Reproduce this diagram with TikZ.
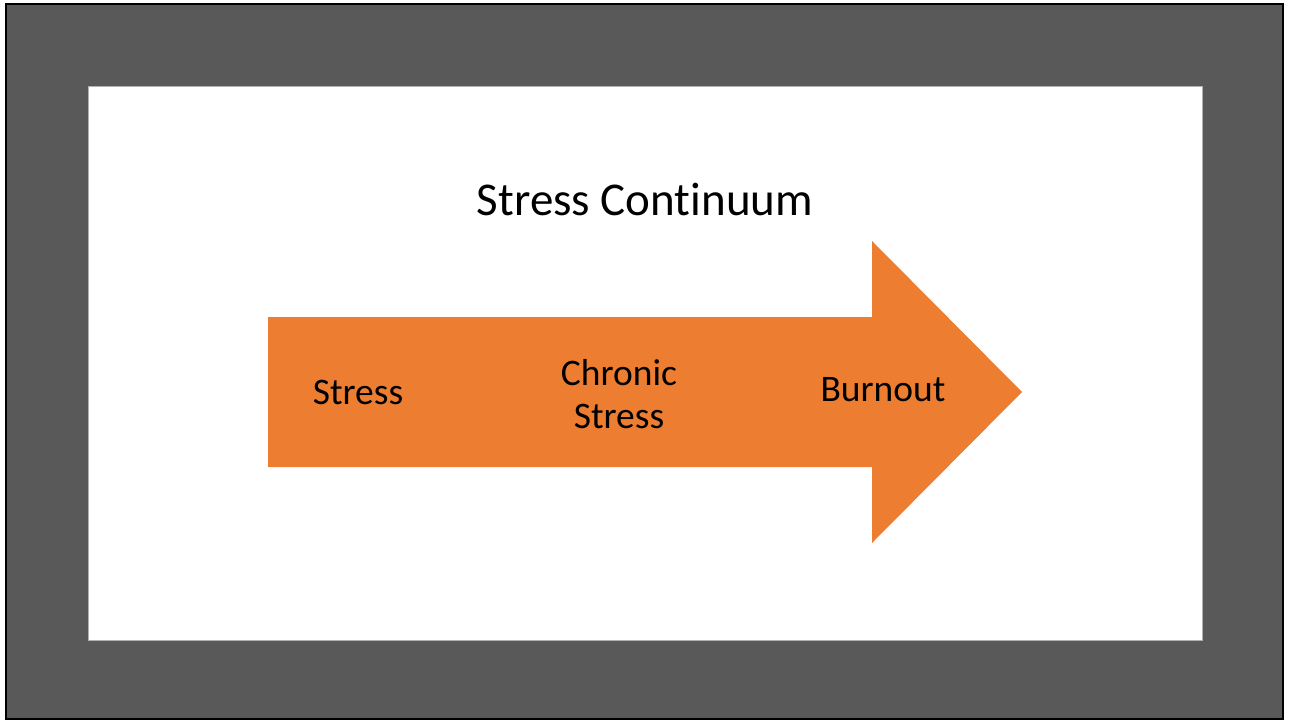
\documentclass[tikz,border=0pt]{standalone}
\usepackage{fontspec}
\setmainfont[Ligatures=NoCommon]{Carlito}
\definecolor{framegray}{HTML}{595959}
\definecolor{arroworange}{HTML}{ED7D31}
\begin{document}
\begin{tikzpicture}[x=1pt,y=-1pt,
  lbl/.style={font=\fontsize{37.5}{43}\selectfont, align=center, text=black, inner sep=0pt}]
\useasboundingbox (0,0) rectangle (1292,722);
\fill[white] (0,0) rectangle (1292,722);
\fill[framegray] (6,4) rectangle (1283,719);
\draw[black, line width=2pt] (6,4) rectangle (1283,719);
\fill[white] (88,86) rectangle (1202,640);
\draw[gray!60, line width=0.7pt] (88,86) rectangle (1202,640);
\fill[arroworange] (268,317) -- (872,317) -- (872,241) -- (1022,392) -- (872,543) -- (872,467) -- (268,467) -- cycle;
\node[lbl, font=\fontsize{47}{54}\selectfont] (title) at (645,200) {Stress Continuum};
\node[lbl] (s1) at (358,392) {Stress};
\node[lbl] (s2) at (619,394) {Chronic\\Stress};
\node[lbl] (s3) at (883,390) {Burnout};
\end{tikzpicture}
\end{document}
